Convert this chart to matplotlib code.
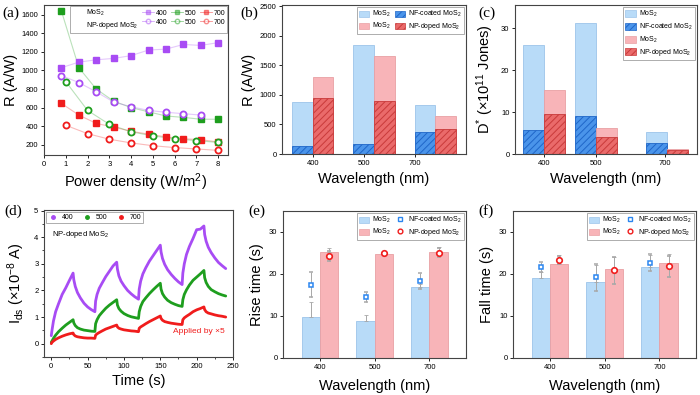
import matplotlib
matplotlib.use('Agg')
import matplotlib.pyplot as plt
from matplotlib.lines import Line2D
from matplotlib.patches import Patch
from matplotlib.ticker import MultipleLocator
import numpy as np

plt.rcParams['font.family'] = ['Liberation Sans', 'DejaVu Sans']
plt.rcParams['mathtext.fontset'] = 'custom'
plt.rcParams['mathtext.rm'] = 'Liberation Sans'
plt.rcParams['mathtext.it'] = 'Liberation Sans:italic'
plt.rcParams['mathtext.default'] = 'regular'
plt.rcParams['hatch.linewidth'] = 0.7

# ---- (a) responsivity vs power density
pd_mos2 = [0.8, 1.6, 2.4, 3.2, 4.0, 4.8, 5.6, 6.4, 7.2, 8.0]
r_mos2_400 = [1030, 1090, 1115, 1130, 1160, 1220, 1230, 1280, 1270, 1300]
r_mos2_500 = [1640, 1030, 800, 670, 600, 555, 510, 495, 475, 475]
r_mos2_700 = [645, 520, 430, 390, 345, 315, 285, 265, 255, 230]
pd_np400 = [0.8, 1.6, 2.4, 3.2, 4.0, 4.8, 5.6, 6.4, 7.2]
r_np_400 = [945, 870, 770, 660, 610, 570, 550, 535, 520]
pd_np = [1, 2, 3, 4, 5, 6, 7, 8]
r_np_500 = [880, 570, 420, 340, 295, 265, 245, 225]
r_np_700 = [410, 320, 260, 220, 190, 170, 155, 140]

# ---- (b)/(c) bars
wl_labels = ['400', '500', '700']
r_mos2_nf = [880, 1840, 830]
r_nf = [140, 175, 370]
r_mos2_np = [1300, 1650, 645]
r_np = [950, 890, 415]
d_mos2_nf = [26.0, 31.3, 5.3]
d_nf = [5.8, 9.0, 2.6]
d_mos2_np = [15.2, 6.1, 1.2]
d_np = [9.5, 4.0, 1.0]

# ---- (d) photocurrent, NP-doped MoS2
t_s = [0, 1, 3, 6, 10, 15, 20, 25, 30,
       31, 33, 36, 40, 45, 50, 55, 60,
       61, 63, 66, 70, 75, 80, 85, 90,
       91, 93, 96, 100, 105, 110, 115, 120,
       121, 123, 126, 130, 135, 140, 145, 150,
       151, 153, 156, 160, 165, 170, 175, 180,
       181, 183, 186, 190, 195, 200, 205, 210,
       211, 213, 216, 220, 225, 230, 235, 240]
i_400 = [0.3, 0.5, 0.85, 1.2, 1.5, 1.85, 2.1, 2.38, 2.65,
         2.4, 2.15, 1.92, 1.72, 1.52, 1.38, 1.28, 1.2,
         1.6, 1.85, 2.08, 2.28, 2.52, 2.72, 2.92, 3.06,
         2.8, 2.55, 2.35, 2.18, 2.0, 1.87, 1.76, 1.67,
         2.05, 2.35, 2.62, 2.85, 3.1, 3.3, 3.5, 3.7,
         3.45, 3.2, 2.98, 2.78, 2.6, 2.45, 2.32, 2.22,
         2.65, 3.0, 3.35, 3.65, 3.95, 4.28, 4.3, 4.42,
         4.1, 3.85, 3.62, 3.42, 3.22, 3.05, 2.93, 2.82]
i_500 = [0.05, 0.1, 0.2, 0.32, 0.45, 0.58, 0.7, 0.8, 0.9,
         0.78, 0.68, 0.6, 0.55, 0.51, 0.49, 0.47, 0.46,
         0.75, 0.9, 1.05, 1.18, 1.33, 1.45, 1.55, 1.65,
         1.45, 1.32, 1.22, 1.13, 1.06, 1.01, 0.98, 0.95,
         1.2, 1.4, 1.58, 1.72, 1.88, 2.02, 2.15, 2.27,
         2.05, 1.88, 1.75, 1.63, 1.54, 1.48, 1.43, 1.4,
         1.65, 1.85, 2.02, 2.2, 2.38, 2.5, 2.62, 2.75,
         2.48, 2.3, 2.15, 2.03, 1.95, 1.88, 1.83, 1.79]
i_700 = [0.0, 0.05, 0.1, 0.16, 0.22, 0.28, 0.33, 0.37, 0.4,
         0.34, 0.29, 0.26, 0.24, 0.22, 0.21, 0.21, 0.2,
         0.32, 0.37, 0.42, 0.48, 0.55, 0.6, 0.65, 0.7,
         0.63, 0.58, 0.55, 0.52, 0.5, 0.48, 0.47, 0.45,
         0.58, 0.63, 0.68, 0.75, 0.83, 0.9, 0.97, 1.04,
         0.95, 0.88, 0.83, 0.8, 0.77, 0.75, 0.73, 0.72,
         0.9, 0.97, 1.03, 1.1, 1.2, 1.27, 1.32, 1.38,
         1.28, 1.2, 1.15, 1.12, 1.08, 1.05, 1.03, 1.0]

# ---- (e)/(f) rise and fall times
rise_mos2_nf = [9.8, 8.9, 17.0]
rise_mos2_nf_err = [3.5, 1.4, 0.6]
rise_mos2_np = [25.3, 24.8, 25.3]
rise_mos2_np_err = [0.8, 0.3, 1.2]
rise_nf = [17.5, 14.6, 18.4]
rise_nf_err = [3.0, 1.2, 1.9]
rise_np = [24.3, 24.9, 25.1]
rise_np_err = [1.2, 0.4, 1.1]
fall_mos2_nf = [19.0, 18.2, 21.6]
fall_mos2_nf_err = [1.5, 4.0, 3.0]
fall_mos2_np = [22.4, 21.2, 22.7]
fall_mos2_np_err = [2.2, 2.8, 2.0]
fall_nf = [21.7, 19.2, 22.7]
fall_nf_err = [1.2, 3.2, 2.0]
fall_np = [23.4, 20.9, 21.9]
fall_np_err = [1.0, 3.2, 2.5]

purple = '#a84cf4'
green = '#1e9e1e'
red = '#f01c1c'
lblue = '#b8dbf8'
lblue_e = '#9cc4ea'
lred = '#f8b4b8'
lred_e = '#e9a0a4'
hblue = '#4a94ea'
hblue_e = '#1f66c8'
hred = '#ea6a6a'
hred_e = '#c83a3a'
ptblue = '#2b86f0'
errc = '#a8a8a8'

XL = 10.5  # axis label size
W, H = 700, 395
fig = plt.figure(figsize=(7, 3.95), dpi=100)


def box(l, t, r, b):
    return [l / W, 1 - b / H, (r - l) / W, (b - t) / H]


def style(ax):
    for s in ax.spines.values():
        s.set_linewidth(0.8)
        s.set_color('#444444')
    ax.tick_params(labelsize=5.5, length=2.5, width=0.6, direction='out', pad=1.5)
    ax.tick_params(which='minor', length=1.5, width=0.5)


def plabel(x, y, s):
    fig.text(x / W, 1 - y / H, s, fontsize=11, family='Liberation Serif', va='center', ha='left')


# (a)
ax = fig.add_axes(box(44, 5, 228, 155))
style(ax)
for xs, ys, c in [(pd_mos2, r_mos2_400, purple), (pd_mos2, r_mos2_500, green), (pd_mos2, r_mos2_700, red)]:
    ax.plot(xs, ys, '-', color=c, alpha=0.3, lw=0.8)
    ax.plot(xs, ys, 's', color=c, ms=3.8, mec=c, zorder=3)
for xs, ys, c in [(pd_np400, r_np_400, purple), (pd_np, r_np_500, green), (pd_np, r_np_700, red)]:
    ax.plot(xs, ys, '-', color=c, alpha=0.3, lw=0.8)
    ax.plot(xs, ys, 'o', mfc='white', mec=c, mew=1.3, ms=4.4, zorder=3)
ax.set_xlim(0, 8.45)
ax.set_ylim(90, 1705)
ax.xaxis.set_major_locator(MultipleLocator(1))
ax.yaxis.set_major_locator(MultipleLocator(200))
ax.set_xlabel('Power density (W/m$^{2}$)', fontsize=XL, labelpad=3)
ax.set_ylabel('R (A/W)', fontsize=XL, labelpad=3)
blank = Line2D([], [], linestyle='none')
hs = [blank, blank]
ls = ['MoS$_2$', 'NP-doped MoS$_2$']
for c, w in [(purple, '400'), (green, '500'), (red, '700')]:
    hs += [Line2D([], [], color=c, lw=0.6, marker='s', ms=3, mfc=c, mec=c),
           Line2D([], [], color=c, lw=0.6, marker='o', ms=3.2, mfc='white', mec=c, mew=1)]
    ls += [w, w]
leg = ax.legend(hs, ls, ncol=4, loc='upper right', fontsize=5, frameon=True, fancybox=False,
                edgecolor='#888888', borderaxespad=0.1, handlelength=1.7, handletextpad=0.3,
                columnspacing=0.5, labelspacing=0.3, borderpad=0.3)
leg.get_frame().set_linewidth(0.6)
for h in leg.get_lines():
    h.set_alpha(0.5)
plabel(2, 13, '(a)')

# (b)
ax = fig.add_axes(box(282, 5, 466, 154))
style(ax)
grp = np.array([0, 1.2, 2.4])
bw = 0.405
ax.bar(grp - bw / 2, r_mos2_nf, bw, color=lblue, edgecolor=lblue_e, lw=0.6)
ax.bar(grp - bw / 2, r_nf, bw, color=hblue, edgecolor=hblue_e, lw=0.6, hatch='/////')
ax.bar(grp + bw / 2, r_mos2_np, bw, color=lred, edgecolor=lred_e, lw=0.6)
ax.bar(grp + bw / 2, r_np, bw, color=hred, edgecolor=hred_e, lw=0.6, hatch='/////')
ax.set_xticks([0, 1, 2])
ax.set_xticklabels(wl_labels)
ax.set_xlim(-0.6, 3.0)
ax.set_ylim(0, 2520)
ax.yaxis.set_major_locator(MultipleLocator(500))
ax.set_xlabel('Wavelength (nm)', fontsize=XL, labelpad=4)
ax.set_ylabel('R (A/W)', fontsize=XL, labelpad=3)
hs = [Patch(fc=lblue, ec=lblue_e, lw=0.5), Patch(fc=lred, ec=lred_e, lw=0.5),
      Patch(fc=hblue, ec=hblue_e, lw=0.5, hatch='/////'), Patch(fc=hred, ec=hred_e, lw=0.5, hatch='/////')]
ls = ['MoS$_2$', 'MoS$_2$', 'NF-coated MoS$_2$', 'NP-doped MoS$_2$']
leg = ax.legend(hs, ls, ncol=2, loc='upper right', fontsize=5, fancybox=False, edgecolor='#888888',
                borderaxespad=0.3, handlelength=1.4, handleheight=1.0, handletextpad=0.5,
                columnspacing=0.6, labelspacing=0.25, borderpad=0.3)
leg.get_frame().set_linewidth(0.6)
plabel(240, 13, '(b)')

# (c)
ax = fig.add_axes(box(515, 5, 697, 154))
style(ax)
grp = np.array([0, 1.0, 2.37])
bw = 0.4
ax.bar(grp - bw / 2, d_mos2_nf, bw, color=lblue, edgecolor=lblue_e, lw=0.6)
ax.bar(grp - bw / 2, d_nf, bw, color=hblue, edgecolor=hblue_e, lw=0.6, hatch='/////')
ax.bar(grp + bw / 2, d_mos2_np, bw, color=lred, edgecolor=lred_e, lw=0.6)
ax.bar(grp + bw / 2, d_np, bw, color=hred, edgecolor=hred_e, lw=0.6, hatch='/////')
ax.set_xticks([0, 1, 2.33])
ax.set_xticklabels(wl_labels)
ax.set_xlim(-0.56, 2.95)
ax.set_ylim(0, 35.5)
ax.yaxis.set_major_locator(MultipleLocator(10))
ax.set_xlabel('Wavelength (nm)', fontsize=XL, labelpad=4)
ax.set_ylabel('D$^{*}$ (×10$^{11}$ Jones)', fontsize=XL, labelpad=4)
hs = [Patch(fc=lblue, ec=lblue_e, lw=0.5), Patch(fc=hblue, ec=hblue_e, lw=0.5, hatch='/////'),
      Patch(fc=lred, ec=lred_e, lw=0.5), Patch(fc=hred, ec=hred_e, lw=0.5, hatch='/////')]
ls = ['MoS$_2$', 'NF-coated MoS$_2$', 'MoS$_2$', 'NP-doped MoS$_2$']
leg = ax.legend(hs, ls, ncol=1, loc='upper right', fontsize=5, fancybox=False, edgecolor='#888888',
                borderaxespad=0.3, handlelength=1.6, handleheight=1.2, handletextpad=0.5,
                labelspacing=0.35, borderpad=0.3)
leg.get_frame().set_linewidth(0.6)
plabel(478, 13, '(c)')

# (d)
ax = fig.add_axes(box(44, 210, 233, 357))
style(ax)
for ys, c in [(i_400, purple), (i_500, green), (i_700, red)]:
    ax.plot(t_s, ys, '-', color=c, lw=2.0, solid_capstyle='round')
ax.set_xlim(-10, 250)
ax.set_ylim(-0.5, 5.02)
ax.xaxis.set_major_locator(MultipleLocator(50))
ax.xaxis.set_minor_locator(MultipleLocator(25))
ax.yaxis.set_major_locator(MultipleLocator(1))
ax.yaxis.set_minor_locator(MultipleLocator(0.5))
ax.set_xlabel('Time (s)', fontsize=XL, labelpad=3)
ax.set_ylabel('I$_{ds}$ (×10$^{-8}$ A)', fontsize=XL, labelpad=5)
hs = [Line2D([], [], ls='none', marker='o', ms=2.5, color=c) for c in (purple, green, red)]
leg = ax.legend(hs, ['400', '500', '700'], ncol=3, loc='upper left', fontsize=5, fancybox=False,
                edgecolor='#888888', borderaxespad=0.3, handlelength=1.5, handletextpad=0.5,
                columnspacing=1.2, borderpad=0.3)
leg.get_frame().set_linewidth(0.6)
ax.text(0.04, 0.82, 'NP-doped MoS$_2$', transform=ax.transAxes, fontsize=5.5)
ax.text(203, 0.44, 'Applied by ×5', color=red, fontsize=6, ha='center', va='center')
plabel(4, 211, '(d)')


def timebars(ax, mos2_nf, mos2_nf_err, mos2_np, mos2_np_err, nf, nf_err, np_, np_err, ylab):
    style(ax)
    x = np.arange(3)
    bw = 0.335
    ax.bar(x - bw / 2, mos2_nf, bw, color=lblue, edgecolor=lblue_e, lw=0.6)
    ax.bar(x + bw / 2, mos2_np, bw, color=lred, edgecolor=lred_e, lw=0.6)
    z = [0, 0, 0]
    ax.errorbar(x - bw / 2, mos2_nf, yerr=[z, mos2_nf_err], fmt='none', ecolor=errc, elinewidth=0.7, capsize=1.5, capthick=0.6)
    ax.errorbar(x + bw / 2, mos2_np, yerr=[z, mos2_np_err], fmt='none', ecolor=errc, elinewidth=0.7, capsize=1.5, capthick=0.6)
    ax.errorbar(x - bw / 2, nf, yerr=nf_err, fmt='s', mfc='white', mec=ptblue, mew=1.1, ms=3.4,
                ecolor=errc, elinewidth=0.7, capsize=1.5, capthick=0.6, zorder=4)
    ax.errorbar(x + bw / 2, np_, yerr=np_err, fmt='o', mfc='white', mec=red, mew=1.2, ms=4.0,
                ecolor=errc, elinewidth=0.7, capsize=1.5, capthick=0.6, zorder=4)
    ax.set_xticks(x)
    ax.set_xticklabels(wl_labels)
    ax.set_xlim(-0.68, 2.67)
    ax.set_ylim(0, 35)
    ax.yaxis.set_major_locator(MultipleLocator(10))
    ax.set_xlabel('Wavelength (nm)', fontsize=XL, labelpad=6)
    ax.set_ylabel(ylab, fontsize=XL, labelpad=4)
    hs = [Patch(fc=lblue, ec=lblue_e, lw=0.5), Patch(fc=lred, ec=lred_e, lw=0.5),
          Line2D([], [], ls='none', marker='s', mfc='white', mec=ptblue, mew=1, ms=3),
          Line2D([], [], ls='none', marker='o', mfc='white', mec=red, mew=1, ms=3.4)]
    ls = ['MoS$_2$', 'MoS$_2$', 'NF-coated MoS$_2$', 'NP-doped MoS$_2$']
    leg = ax.legend(hs, ls, ncol=2, loc='upper right', fontsize=5, fancybox=False, edgecolor='#888888',
                    borderaxespad=0.3, handlelength=1.4, handleheight=1.0, handletextpad=0.5,
                    columnspacing=0.6, labelspacing=0.25, borderpad=0.3)
    leg.get_frame().set_linewidth(0.6)


ax = fig.add_axes(box(283, 211, 466, 358))
timebars(ax, rise_mos2_nf, rise_mos2_nf_err, rise_mos2_np, rise_mos2_np_err,
         rise_nf, rise_nf_err, rise_np, rise_np_err, 'Rise time (s)')
plabel(248, 211, '(e)')

ax = fig.add_axes(box(513, 211, 696, 358))
timebars(ax, fall_mos2_nf, fall_mos2_nf_err, fall_mos2_np, fall_mos2_np_err,
         fall_nf, fall_nf_err, fall_np, fall_np_err, 'Fall time (s)')
plabel(478, 211, '(f)')

fig.savefig('out.png', dpi=100)
